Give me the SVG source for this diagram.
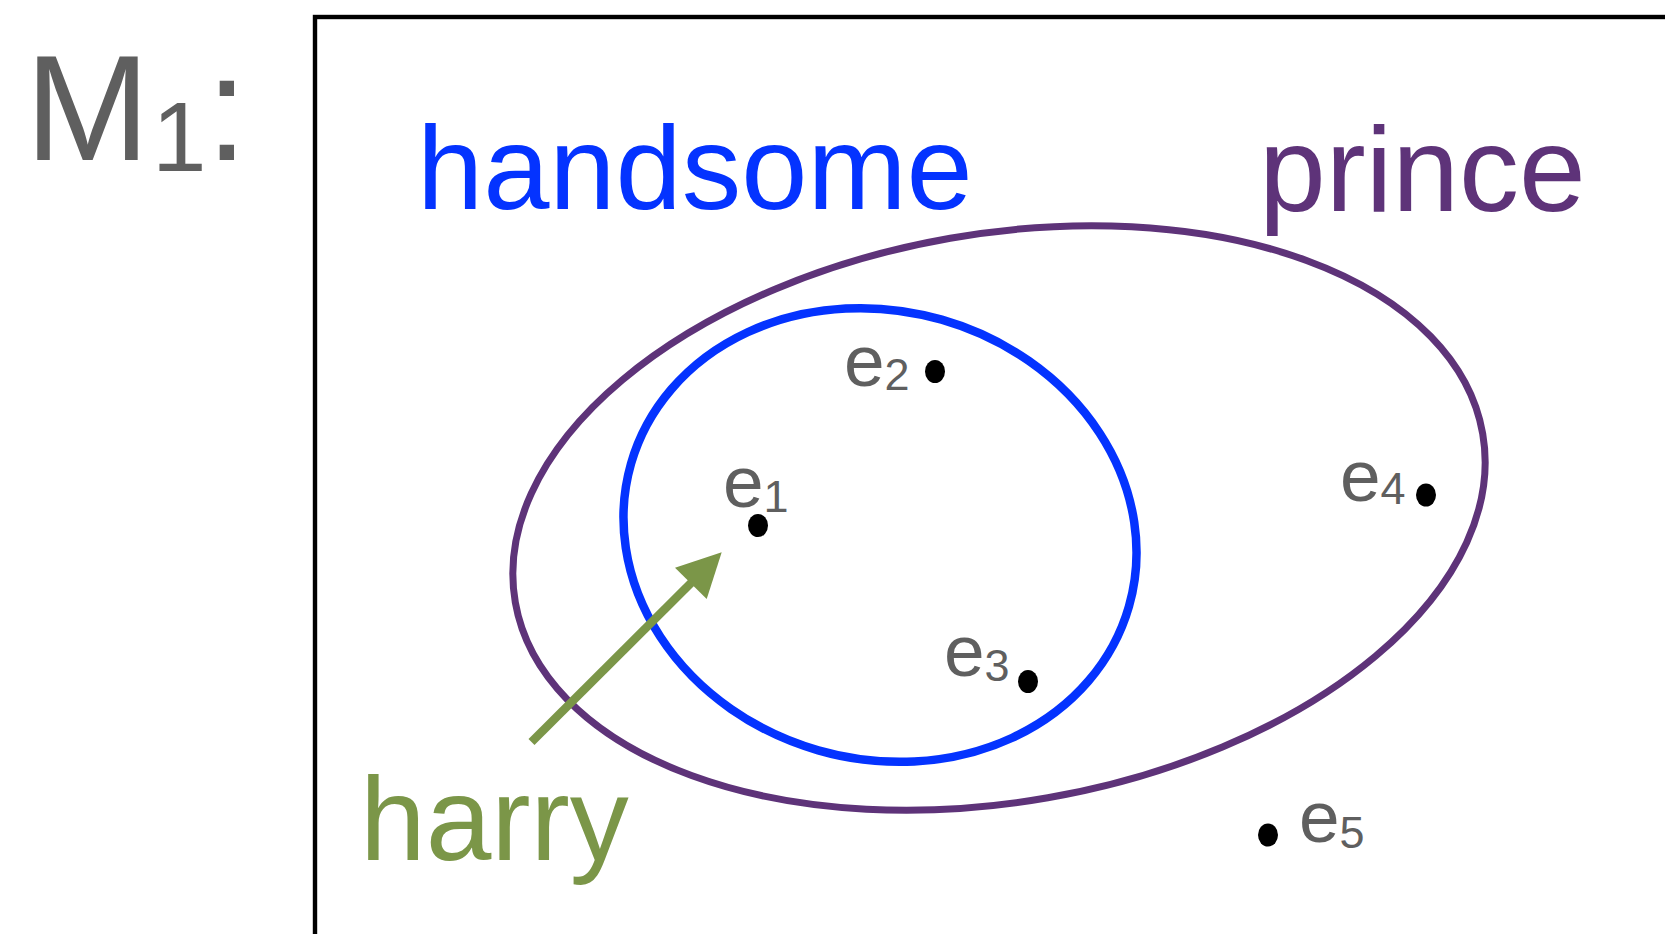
<svg xmlns="http://www.w3.org/2000/svg" width="1665" height="934" viewBox="0 0 1665 934">
<defs>
<style>
text{font-family:"Liberation Sans",Arial,sans-serif}
.g{fill:#5f5f5f}
.lbl{font-size:73px}
.sub{font-size:45px}
.dot{fill:#000}
</style>
</defs>
<rect width="1665" height="934" fill="#fff"/>
<g id="title">
<text class="g" y="160"><tspan x="25" font-size="150">M</tspan><tspan x="152" y="171" font-size="98">1</tspan><tspan x="206" y="160" font-size="150">:</tspan></text>
</g>
<g id="frame">
<rect x="315" y="17" width="1450" height="1000" fill="none" stroke="#000" stroke-width="4.4"/>
</g>
<g id="prince">
<ellipse cx="999" cy="518" rx="491" ry="284" transform="rotate(-9.9 999 518)" fill="none" stroke="#5e3379" stroke-width="7"/>
<text x="1259" y="211" font-size="120" fill="#5e3379">prince</text>
</g>
<g id="handsome">
<ellipse cx="880" cy="535" rx="259" ry="224" transform="rotate(16 880 535)" fill="none" stroke="#0433ff" stroke-width="8.5"/>
<text x="417" y="209" font-size="119" fill="#0433ff">handsome</text>
</g>
<g id="e1">
<ellipse class="dot" cx="758" cy="525.5" rx="10" ry="11.5"/>
<text class="g lbl" x="723" y="507">e<tspan class="sub" dy="5">1</tspan></text>
</g>
<g id="e2">
<ellipse class="dot" cx="935" cy="371.5" rx="10" ry="11.5"/>
<text class="g lbl" x="844" y="386">e<tspan class="sub" dy="4">2</tspan></text>
</g>
<g id="e3">
<ellipse class="dot" cx="1028" cy="681.5" rx="10" ry="11.5"/>
<text class="g lbl" x="944" y="676">e<tspan class="sub" dy="5">3</tspan></text>
</g>
<g id="e4">
<ellipse class="dot" cx="1426" cy="495" rx="10" ry="11.5"/>
<text class="g lbl" x="1340" y="501">e<tspan class="sub" dy="3">4</tspan></text>
</g>
<g id="e5">
<ellipse class="dot" cx="1268" cy="835" rx="10" ry="11.5"/>
<text class="g lbl" x="1299" y="842">e<tspan class="sub" dy="6">5</tspan></text>
</g>
<g id="harry">
<text x="360" y="860" font-size="118" fill="#7b9648">harry</text>
</g>
<g id="connectors">
<line x1="531.5" y1="742" x2="695" y2="579" stroke="#7b9648" stroke-width="8.5"/>
<polygon points="721.7,552.3 675,567.7 706.7,599" fill="#7b9648"/>
</g>
</svg>
